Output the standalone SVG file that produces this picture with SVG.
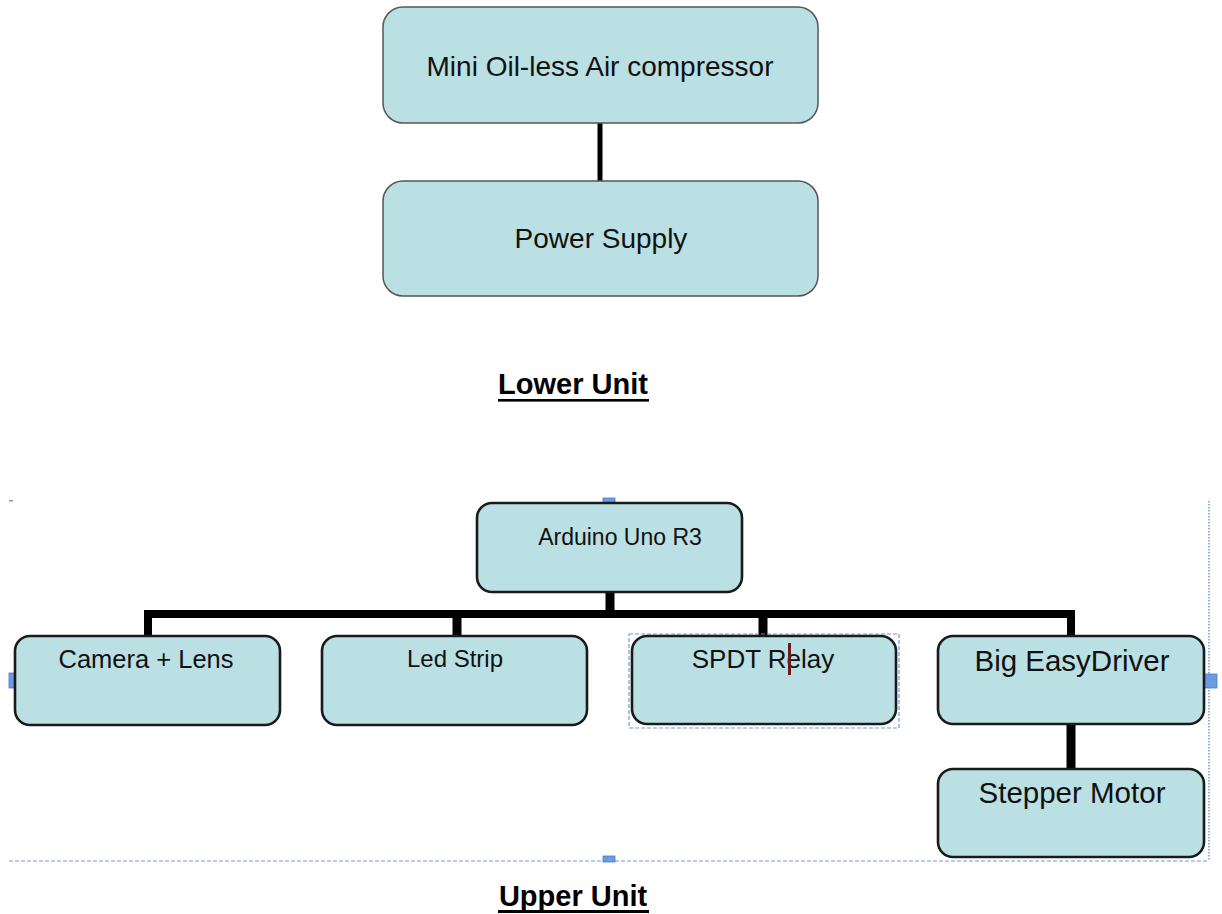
<svg xmlns="http://www.w3.org/2000/svg" width="1222" height="914" viewBox="0 0 1222 914">
<style>
.lo{fill:#bae0e3;stroke:#555;stroke-width:1.5}
.up{fill:#bae0e3;stroke:#1a1a1a;stroke-width:2.6}
.t{font-family:"Liberation Sans",Arial,sans-serif;fill:#111;text-anchor:middle}
.h{font-family:"Liberation Sans",Arial,sans-serif;font-weight:bold;fill:#000;text-anchor:middle;font-size:29px}
.c{stroke:#000;fill:none}
.sel{fill:none;stroke:#6b9be0;stroke-width:1.2;stroke-dasharray:4 2}
.dot{fill:none;stroke:#6b9be0;stroke-width:1.5;stroke-dasharray:1.5 1.5}
.hd{fill:#6a9be3;stroke:#4a7cc4;stroke-width:0.8}
</style>
<rect x="0" y="0" width="1222" height="914" fill="#fff"/>
<g id="connectors">
<line class="c" x1="600" y1="123" x2="600" y2="181" stroke-width="5"/>
<line class="c" x1="610" y1="592" x2="610" y2="614" stroke-width="9"/>
<polyline class="c" points="148,636 148,614 1071,614 1071,636" stroke-width="8"/>
<line class="c" x1="457" y1="614" x2="457" y2="636" stroke-width="9"/>
<line class="c" x1="763" y1="614" x2="763" y2="636" stroke-width="9"/>
<line class="c" x1="1071" y1="724" x2="1071" y2="769" stroke-width="9"/>
</g>
<g id="compressor">
<rect class="lo" x="383" y="7" width="435" height="116" rx="20"/>
<text class="t" x="600" y="76" font-size="28">Mini Oil-less Air compressor</text>
</g>
<g id="power-supply">
<rect class="lo" x="383" y="181" width="435" height="115" rx="20"/>
<text class="t" x="601" y="248" font-size="28">Power Supply</text>
</g>
<g id="lower-unit-label">
<text class="h" x="573" y="394">Lower Unit</text>
<rect x="498" y="399" width="151" height="2.6" fill="#000"/>
</g>
<g id="selection">
<line class="sel" x1="9" y1="861" x2="1209" y2="861"/>
<line class="dot" x1="1209" y1="501" x2="1209" y2="861"/>
<rect x="9" y="500" width="4" height="1.5" fill="#6b9be0"/>
<rect class="hd" x="603" y="498" width="12" height="5"/>
<rect class="hd" x="603" y="856" width="12" height="6"/>
<rect class="hd" x="9" y="673" width="6" height="15"/>
<rect class="hd" x="1203" y="674" width="14" height="14"/>
</g>
<g id="arduino">
<rect class="up" x="477" y="503" width="265" height="89" rx="15"/>
<text class="t" x="620" y="545" font-size="23">Arduino Uno R3</text>
</g>
<g id="camera">
<rect class="up" x="15" y="636" width="265" height="89" rx="15"/>
<text class="t" x="146" y="668" font-size="25.5">Camera + Lens</text>
</g>
<g id="led-strip">
<rect class="up" x="322" y="636" width="265" height="89" rx="15"/>
<text class="t" x="455" y="667" font-size="24">Led Strip</text>
</g>
<g id="spdt-relay">
<rect class="sel" x="629" y="634" width="270" height="94"/>
<rect class="up" x="632" y="636" width="264" height="88" rx="15"/>
<text class="t" x="763" y="668" font-size="26">SPDT Relay</text>
<rect x="788" y="643" width="3" height="32" fill="#6b1a1a"/>
</g>
<g id="big-easydriver">
<rect class="up" x="938" y="636" width="266" height="88" rx="15"/>
<text class="t" x="1072" y="671" font-size="29.5">Big EasyDriver</text>
</g>
<g id="stepper-motor">
<rect class="up" x="938" y="769" width="266" height="88" rx="15"/>
<text class="t" x="1072" y="803" font-size="29.5">Stepper Motor</text>
</g>
<g id="upper-unit-label">
<text class="h" x="573" y="906">Upper Unit</text>
<rect x="498" y="910" width="151" height="3" fill="#000"/>
</g>
</svg>
